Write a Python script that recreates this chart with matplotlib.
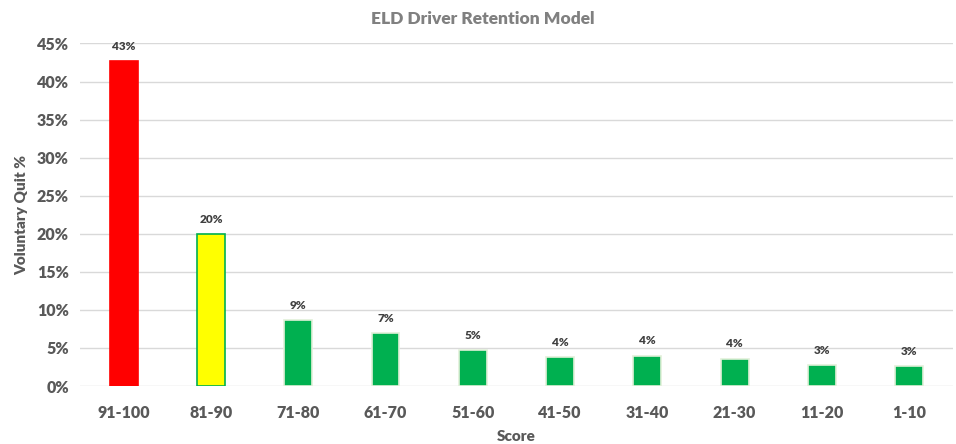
import numpy as np
import matplotlib.pyplot as plt
from matplotlib.ticker import PercentFormatter

plt.rcParams['font.family'] = ['Lato', 'DejaVu Sans']

# data
scores = ['91-100', '81-90', '71-80', '61-70', '51-60', '41-50', '31-40', '21-30', '11-20', '1-10']
quit_pct = [42.7, 20.0, 8.7, 7.0, 4.7, 3.8, 4.0, 3.6, 2.8, 2.6]
bar_colors = ['#FF0000', '#FFFF00'] + ['#00B050'] * 8
edge_colors = ['#FF0000', '#00B050'] + ['#E2F0D9'] * 8
yticks = [0, 5, 10, 15, 20, 25, 30, 35, 40, 45]

fig = plt.figure(figsize=(9.56, 4.44), dpi=100)
ax = fig.add_axes([0.0837, 0.1306, 0.913, 0.7715])

x = np.arange(len(scores))
ax.bar(x, quit_pct, width=0.32, color=bar_colors, edgecolor=edge_colors, linewidth=1.2, zorder=3)

for xi, v in zip(x, quit_pct):
    ax.text(xi, v + 1.2, '%d%%' % round(v), ha='center', va='bottom',
            fontsize=8.5, fontweight='heavy', color='#404040')

ax.set_xlim(-0.5, len(scores) - 0.5)
ax.set_ylim(0, 45)
ax.set_yticks(yticks)
ax.yaxis.set_major_formatter(PercentFormatter(decimals=0))
ax.set_xticks(x)
ax.set_xticklabels(scores)
ax.grid(axis='y', color='#D9D9D9', linewidth=1, zorder=0)
for s in ax.spines.values():
    s.set_visible(False)
ax.tick_params(length=0, labelsize=11.5, labelcolor='#595959', pad=8)
for lbl in ax.get_xticklabels() + ax.get_yticklabels():
    lbl.set_fontweight('heavy')
ax.tick_params(axis='x', pad=14)

ax.set_xlabel('Score', fontsize=11, fontweight='heavy', color='#595959', labelpad=6)
ax.set_ylabel('Voluntary Quit %', fontsize=11, fontweight='heavy', color='#595959', labelpad=6)
fig.suptitle('ELD Driver Retention Model', x=0.505, y=0.975, fontsize=12.5,
             fontweight='heavy', color='#808080')

fig.savefig('out.png', dpi=100)
